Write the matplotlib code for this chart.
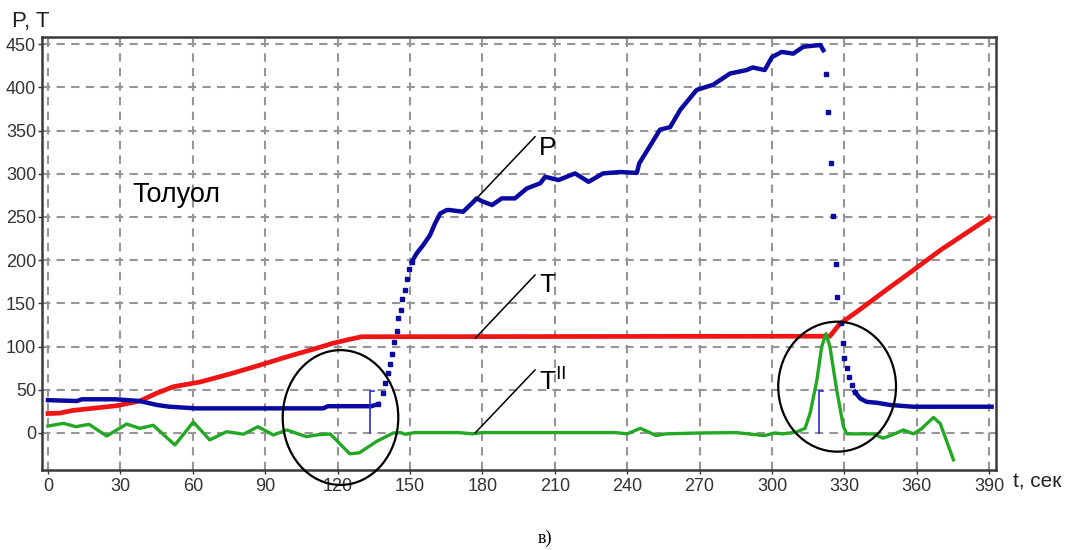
import matplotlib
matplotlib.use("Agg")
import matplotlib.pyplot as plt
from matplotlib.patches import Ellipse

plt.rcParams['font.family'] = ['Liberation Sans', 'DejaVu Sans']

# ---- data ----
x_ticks = [0, 30, 60, 90, 120, 150, 180, 210, 240, 270, 300, 330, 360, 390]
y_ticks = [0, 50, 100, 150, 200, 250, 300, 350, 400, 450]

# P (pressure) – continuous parts
p1_t = [0, 12, 14, 28, 38, 45, 50, 61, 114, 116, 134, 136.9]
p1_v = [38, 37, 39, 39, 37, 32.5, 30.5, 28.5, 28.5, 31, 31, 33.5]
# P – fast rise, separate samples
p_rise_t = [136.9, 138.7, 139.7, 140.8, 141.7, 142.7, 143.5, 144.5, 145.2, 146.2,
            146.8, 147.9, 148.7, 149.7, 150.7]
p_rise_v = [33.5, 46.7, 57.5, 69, 79.5, 91.4, 105.6, 118, 132.7, 142.3,
            154.7, 166, 178, 189.4, 198]
# P – plateau / slow rise
p2_t = [150.7, 152.8, 155.5, 158.3, 160.4, 162.5, 165.2, 166.6, 172, 176.3, 177.6, 180,
        184, 188, 193.5, 198.4, 204, 206, 211.5, 218.4, 224, 230, 237, 244, 245,
        253.6, 257.8, 262, 268.8, 275.6, 282.6, 289.5, 292, 297, 300, 304, 308.8,
        313, 320, 321.3]
p2_v = [198, 208, 217.5, 229, 242.6, 254, 258, 258, 256, 267.6, 271.5, 268,
        263.8, 271.5, 271.5, 283, 289, 296.5, 292.7, 300.4, 290.7, 300.4, 302, 301, 312,
        351, 354, 374, 397, 403, 416, 420, 423, 420, 435, 441, 439,
        447, 449, 443]
# P – fast fall, separate samples
p_fall_t = [322.4, 323.1, 324.5, 325.2, 326.6, 327, 328.5, 329.3, 330, 331, 332, 333, 334.3]
p_fall_v = [416, 371.7, 312, 251, 196, 157.7, 127.6, 103.8, 86.4, 74.8, 65, 55.5, 47.8]
# P – tail
p3_t = [334.3, 336.5, 339.3, 343.4, 349, 358.5, 391]
p3_v = [47.8, 40, 36, 35, 32.4, 30.4, 30.4]

# T (temperature)
t_t = [0, 5, 10, 20, 28.5, 38, 45, 52, 63, 75, 88, 100, 110, 118, 125, 130,
       324, 328, 336, 349, 353, 370, 390]
t_v = [22.5, 23, 26, 29, 31.6, 37, 46, 53.6, 59, 68, 78.7, 89, 97, 103.8, 108.4, 111.4,
       112, 126, 142, 169, 177, 212, 249]

# T'' (second derivative)
g_t = [0, 6.4, 11.5, 17, 24.3, 32.6, 38, 43.6, 52.6, 60.2, 67, 74, 81, 87, 93.4, 99,
       107, 112, 117, 125, 129, 136, 143, 146, 148, 152, 170, 176, 180, 200, 235, 240,
       245.4, 249, 252, 256, 270, 285, 290, 297, 301, 304.6, 310, 313.7, 315.8, 318.6,
       320.6, 322.4, 324, 326.8, 329.6, 331, 342, 346, 350, 354.5, 358.6, 362, 366.9,
       369.7, 375.2]
g_v = [8, 11.2, 7.3, 10, -3.5, 10.4, 5.4, 8.9, -13.9, 12.7, -8, 1.5, -1.4, 7.3, -2.3, 3.5,
       -4.2, -2, -1.2, -24, -23, -10, 0, 0.5, -1.5, 0.5, 0.5, -1, 0.5, 0.5, 0.5, -1,
       5.4, 1, -3, -1, 0, 0.5, -1, -3, 0, -1, 1, 5.4, 22.8, 61,
       100, 115, 100, 50, 7.3, -1, -1, -6, -2, 3.5, -1, 5, 18,
       11, -31]

# ---- figure ----
fig = plt.figure(figsize=(10.7, 5.5), dpi=100)
ax = fig.add_axes([0.039, 0.1455, 0.892, 0.7865])
ax.set_xlim(-2.6, 392.9)
ax.set_ylim(-42.8, 457.8)

for v in x_ticks:
    ax.axvline(v, color='#969696', lw=1.5, ls=(0, (4, 3)), zorder=1)
for v in y_ticks:
    ax.axhline(v, color='#969696', lw=1.5, ls=(0, (4, 3)), zorder=1)

blue = '#0a0aa0'
red = '#f01414'
green = '#22a822'

ax.plot(t_t, t_v, color=red, lw=3.4, zorder=3)
ax.plot(g_t, g_v, color=green, lw=2.4, zorder=3)
ax.plot(p1_t, p1_v, color=blue, lw=3.2, zorder=4)
ax.plot(p2_t, p2_v, color=blue, lw=3.2, zorder=4)
ax.plot(p3_t, p3_v, color=blue, lw=3.2, zorder=4)
ax.plot(p_rise_t, p_rise_v, ls='none', marker='s', ms=3.4, color=blue, zorder=4)
ax.plot(p_fall_t, p_fall_v, ls='none', marker='s', ms=3.4, color=blue, zorder=4)

# blue bracket markers
for bt in (133.4, 319.5):
    ax.plot([bt + 1.5, bt, bt], [49, 49, 0], color='#2a2ae0', lw=1.2, zorder=4)

# annotation leaders
ax.plot([177.6, 201.8], [271.5, 342.8], color='black', lw=1.1, zorder=5)
ax.plot([177, 201.8], [109.5, 182.8], color='black', lw=1.1, zorder=5)
ax.plot([177, 201.8], [0, 72.9], color='black', lw=1.1, zorder=5)
ax.text(203.5, 330, 'P', fontsize=19, va='center', ha='left', zorder=6)
ax.text(203.5, 171, 'T', fontsize=19, va='center', ha='left', zorder=6)
ax.text(203.5, 60, r'T$^{\mathrm{II}}$', fontsize=19, va='center', ha='left', zorder=6)
ax.text(34.8, 275, 'Толуол', fontsize=19.5, va='center', ha='left', zorder=6)

# circles
ax.add_patch(Ellipse((121.2, 17.9), 47.9, 156, fill=False, ec='black', lw=1.6,
                     clip_on=False, zorder=7))
ax.add_patch(Ellipse((327, 53.6), 48.8, 150.4, fill=False, ec='black', lw=1.6,
                     clip_on=False, zorder=7))

ax.set_xticks(x_ticks)
ax.set_yticks(y_ticks)
ax.tick_params(axis='both', labelsize=13, colors='#333333', length=3, width=1)
ax.tick_params(axis='x', pad=3)
ax.tick_params(axis='y', pad=1)
for s in ax.spines.values():
    s.set_color('#3a3a3a')
    s.set_linewidth(1.8)

fig.text(0.011, 0.96, 'P, T', fontsize=16, va='center', ha='left', color='#222222')
fig.text(0.947, 0.124, 't, сек', fontsize=15, va='center', ha='left', color='#222222')
fig.text(0.509, 0.022, 'в)', fontsize=13, va='center', ha='center',
         family=['Liberation Serif', 'DejaVu Serif'])

fig.savefig('out.png', dpi=100)
